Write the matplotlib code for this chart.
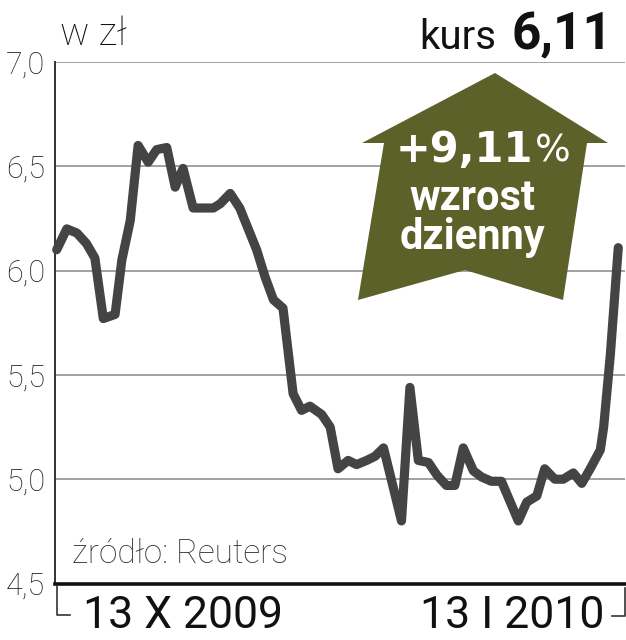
import matplotlib
matplotlib.use("Agg")
import matplotlib.pyplot as plt
from matplotlib.patches import Polygon

# kurs akcji w zł, sesje od 13 X 2009 do II 2010
sesja = [0, 1.8, 3.6, 5.3, 6.8, 8.3, 10.4, 11.6, 13.1, 14.5, 16.3, 17.8, 19.6,
         21.1, 22.5, 24.3, 27.9, 29.1, 30.9, 32.6, 35.6, 37.1, 38.6, 40.3,
         42.1, 43.6, 45.1, 47.2, 48.7, 50.1, 51.9, 53.4, 55.2, 56.7, 58.2,
         61.4, 62.9, 64.4, 66.2, 67.7, 69.4, 70.9, 72.4, 74.2, 75.7, 77.4,
         79.2, 82.2, 83.7, 85.5, 86.9, 88.7, 90.2, 92.0, 93.5, 95.0, 96.8,
         97.4, 98.6, 100]
kurs = [6.10, 6.20, 6.18, 6.13, 6.06, 5.77, 5.79, 6.05, 6.24, 6.60, 6.52, 6.58,
        6.59, 6.40, 6.49, 6.30, 6.30, 6.32, 6.37, 6.30, 6.10, 5.97, 5.86, 5.82,
        5.41, 5.33, 5.35, 5.31, 5.25, 5.05, 5.09, 5.07, 5.09, 5.11, 5.15,
        4.80, 5.44, 5.09, 5.08, 5.02, 4.97, 4.97, 5.15, 5.04, 5.01, 4.99,
        4.99, 4.80, 4.89, 4.92, 5.05, 5.00, 5.00, 5.03, 4.98, 5.05, 5.14,
        5.25, 5.60, 6.11]
yticks = [4.5, 5.0, 5.5, 6.0, 6.5, 7.0]
ylabels = ["4,5", "5,0", "5,5", "6,0", "6,5", "7,0"]
daty = ["13 X 2009", "13 I 2010"]

W, H = 626, 640
plt.rcParams['font.family'] = ['Roboto', 'DejaVu Sans']


def fx(x):
    return x / W


def fy(y):
    return 1 - y / H


fig = plt.figure(figsize=(W / 100, H / 100), dpi=100)
ax = fig.add_axes([fx(55), fy(583.5), (625 - 55) / W, (583.5 - 62) / H])

ax.plot(sesja, kurs, color='#444444', lw=6.6, solid_joinstyle='round',
        solid_capstyle='round', zorder=3, clip_on=False)

ax.set_xlim(-0.3, 101.2)
ax.set_ylim(4.5, 7.0)
ax.set_yticks(yticks)
ax.set_yticklabels(ylabels, fontsize=22, color='#222222', fontweight='light')
ax.set_xticks([])
ax.tick_params(axis='y', length=0, pad=7)
ax.grid(axis='y', color='#9a9a9a', lw=1.3, zorder=1)
ax.set_axisbelow(True)
for s in ['top', 'right']:
    ax.spines[s].set_visible(False)
ax.spines['left'].set_color('#333333')
ax.spines['left'].set_linewidth(1.4)
ax.spines['bottom'].set_color('#111111')
ax.spines['bottom'].set_linewidth(2.6)
ax.spines['bottom'].set_zorder(4)

# strzałka
pts = [(495, 73), (608, 143), (587, 143), (563, 300), (465, 270),
       (358, 300), (384, 143), (362, 143)]
arrow = Polygon([(fx(x), fy(y)) for x, y in pts], closed=True,
                transform=fig.transFigure, facecolor='#5b6128',
                edgecolor='none', zorder=5)
fig.patches.append(arrow)

fig.text(fx(533), fy(162), "+9,11", color='white', fontsize=30,
         family='DejaVu Sans', fontweight='bold', ha='right', va='baseline',
         zorder=6)
fig.text(fx(535), fy(162), "%", color='white', fontsize=27,
         family='DejaVu Sans', ha='left', va='baseline', zorder=6)
fig.text(fx(472), fy(210), "wzrost", color='white', fontsize=30,
         fontweight='bold', ha='center', va='baseline', zorder=6)
fig.text(fx(472), fy(249), "dzienny", color='white', fontsize=30,
         fontweight='bold', ha='center', va='baseline', zorder=6)

# nagłówki
fig.text(fx(60), fy(45), "w zł", fontsize=28, color='#111111',
         fontweight='light', va='baseline')
fig.text(fx(612), fy(49), "6,11", fontsize=37, color='#111111',
         fontweight='bold', ha='right', va='baseline')
fig.text(fx(496), fy(49), "kurs", fontsize=29, color='#111111',
         ha='right', va='baseline')
fig.text(fx(72), fy(563), "źródło: Reuters", fontsize=24, color='#333333',
         fontweight='light', va='baseline')

# daty pod osią
fig.text(fx(83), fy(628), daty[0], fontsize=32, color='#111111', va='baseline')
fig.text(fx(604), fy(628), daty[1], fontsize=32, color='#111111',
         ha='right', va='baseline')
fig.lines.append(plt.Line2D([fx(57.3), fx(57.3), fx(70)],
                            [fy(586), fy(615), fy(615)],
                            transform=fig.transFigure, color='#333333', lw=1.2))
fig.lines.append(plt.Line2D([fx(612), fx(624.5), fx(624.5)],
                            [fy(616), fy(616), fy(588)],
                            transform=fig.transFigure, color='#333333', lw=1.2))

fig.savefig('out.png', dpi=100)
